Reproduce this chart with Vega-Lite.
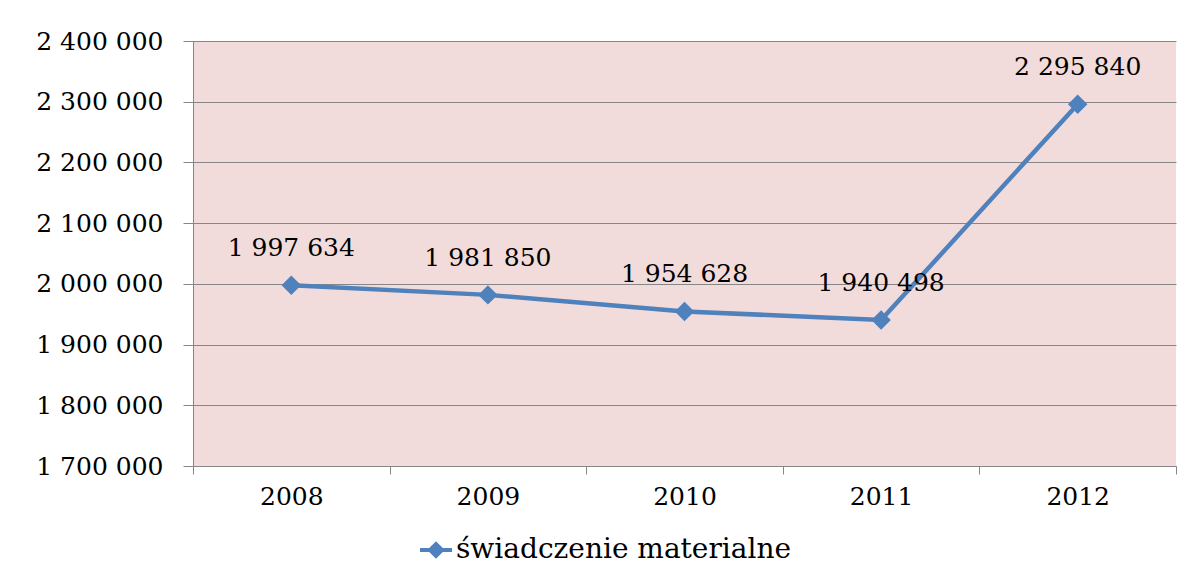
{
  "$schema": "https://vega.github.io/schema/vega-lite/v6.json",
  "autosize": "none",
  "width": 983,
  "height": 425,
  "padding": {"left": 193, "top": 41, "right": 24, "bottom": 117},
  "background": "white",
  "config": {
    "locale": {"number": {"decimal": ",", "thousands": " ", "grouping": [3], "currency": ["", " zł"]}},
    "view": {"fill": "#F2DCDB", "stroke": null},
    "font": "DejaVu Serif"
  },
  "data": {
    "values": [
      {"year": "2008", "value": 1997634, "series": "świadczenie materialne"},
      {"year": "2009", "value": 1981850, "series": "świadczenie materialne"},
      {"year": "2010", "value": 1954628, "series": "świadczenie materialne"},
      {"year": "2011", "value": 1940498, "series": "świadczenie materialne"},
      {"year": "2012", "value": 2295840, "series": "świadczenie materialne"}
    ]
  },
  "encoding": {
    "x": {
      "field": "year", "type": "ordinal",
      "scale": {"type": "band", "paddingInner": 0, "paddingOuter": 0},
      "axis": {
        "title": null, "labelAngle": 0, "labelFont": "DejaVu Serif", "labelFontSize": 25, "labelColor": "black",
        "tickBand": "extent", "tickSize": 8, "tickColor": "#868686", "domainColor": "#868686", "labelPadding": 10, "grid": false
      }
    },
    "y": {
      "field": "value", "type": "quantitative",
      "scale": {"domain": [1700000, 2400000], "nice": false, "zero": false},
      "axis": {
        "title": null, "values": [1700000, 1800000, 1900000, 2000000, 2100000, 2200000, 2300000, 2400000],
        "format": ",d", "labelFont": "DejaVu Serif", "labelFontSize": 25, "labelColor": "black",
        "tickSize": 10, "tickColor": "#868686", "domainColor": "#868686", "labelPadding": 20,
        "grid": true, "gridColor": "#868686", "gridWidth": 1
      }
    }
  },
  "layer": [
    {
      "mark": {"type": "line", "color": "#4F81BD", "strokeWidth": 4.5}
    },
    {
      "mark": {"type": "point", "shape": "diamond", "filled": true, "size": 380, "opacity": 1},
      "encoding": {
        "color": {
          "field": "series", "type": "nominal",
          "scale": {"domain": ["świadczenie materialne"], "range": ["#4F81BD"]},
          "legend": {
            "title": null, "orient": "none", "legendX": 227, "legendY": 493,
            "symbolType": "M-1,-0.13L1,-0.13L1,0.13L-1,0.13Z M0,-0.55L0.55,0L0,0.55L-0.55,0Z",
            "symbolSize": 1024, "symbolStrokeWidth": 0, "symbolOpacity": 1,
            "labelFont": "DejaVu Serif", "labelFontSize": 28, "labelColor": "black", "labelOffset": 4, "labelLimit": 0
          }
        }
      }
    },
    {
      "mark": {"type": "text", "dy": -37, "fontSize": 25, "font": "DejaVu Serif", "color": "black"},
      "encoding": {"text": {"field": "value", "type": "quantitative", "format": ",d"}}
    }
  ]
}
